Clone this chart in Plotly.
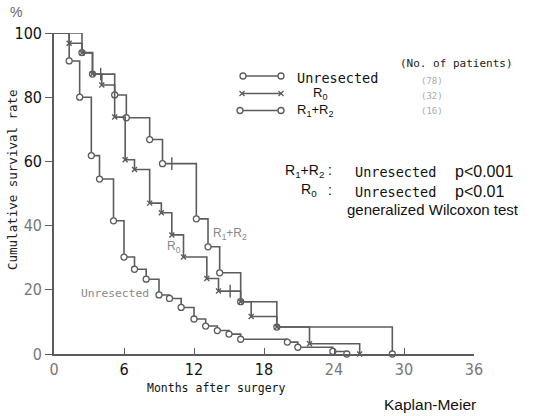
import plotly.graph_objects as go

# ---------------- data (months after surgery, cumulative survival %) ----------------
unres_t = [0, 1.3, 2.2, 3.2, 3.9, 5.1, 6.0, 6.9, 7.9, 9.0, 9.9, 10.9, 12.0, 13.0, 14.0, 15.0, 16.0, 20.0, 20.9, 23.9, 25.1]
unres_s = [100, 91.3, 80.0, 61.8, 54.5, 41.5, 30.2, 26.4, 23.3, 18.4, 17.3, 14.5, 10.9, 8.7, 7.3, 6.2, 4.6, 3.7, 2.1, 0.8, 0]

r0_t = [0, 1.3, 2.4, 3.3, 4.1, 5.2, 6.1, 6.9, 8.2, 9.2, 10.1, 11.1, 13.1, 14.1, 16.0, 16.9, 19.1, 21.9, 26.2]
r0_s = [100, 96.8, 93.8, 87.2, 83.8, 73.8, 60.5, 57.5, 47.0, 44.0, 37.1, 30.2, 23.5, 19.6, 16.3, 11.7, 8.4, 3.2, 0]

r12_t = [0, 2.4, 3.3, 5.2, 6.2, 8.2, 9.3, 12.2, 13.2, 14.2, 16.0, 19.1, 29.0]
r12_s = [100, 93.9, 87.2, 80.7, 73.6, 66.8, 59.3, 42.1, 33.4, 25.3, 16.3, 8.4, 0]

r0_cens_t = [4.0, 15.1]
r0_cens_s = [87.2, 19.6]
r12_cens_t = [10.1]
r12_cens_s = [59.3]

x_ticks = [0, 6, 12, 18, 24, 30, 36]
y_ticks = [0, 20, 40, 60, 80, 100]

# ---------------- layout geometry ----------------
W, H = 535, 416
L, R, T, B = 54, 61, 33, 62
PW, PH = W - L - R, H - T - B


def px(x):
    return (x - L) / PW


def py(y):
    return (H - B - y) / PH


LINE = "#5c5c5c"
MONO = "DejaVu Sans Mono, Liberation Mono, monospace"
SANS = "Liberation Sans, Arial, sans-serif"
NARROW = "DejaVu Sans Condensed, Liberation Sans Narrow, Arial Narrow, sans-serif"

fig = go.Figure()


def km(t, s, symbol, size, lw):
    fig.add_trace(go.Scatter(x=t, y=s, mode="lines", line=dict(shape="hv", color=LINE, width=1.6),
                             cliponaxis=False, hoverinfo="skip"))
    fig.add_trace(go.Scatter(x=t[1:], y=s[1:], mode="markers", cliponaxis=False, hoverinfo="skip",
                             marker=dict(symbol=symbol, size=size, color="white" if "circle" in symbol else LINE,
                                         line=dict(color=LINE, width=lw))))


km(unres_t, unres_s, "circle", 6, 1.3)
km(r12_t, r12_s, "circle", 6, 1.3)
km(r0_t, r0_s, "x-thin", 5, 1.4)

fig.add_trace(go.Scatter(x=r0_cens_t + r12_cens_t, y=r0_cens_s + r12_cens_s, mode="markers", cliponaxis=False,
                         hoverinfo="skip", marker=dict(symbol="line-ns", size=9, line=dict(color=LINE, width=1.4))))

x_col = ["#777", "#111", "#111", "#111", "#777", "#777", "#777"]
y_col = ["#777", "#777", "#777", "#111", "#111", "#111"]

fig.update_xaxes(range=[0, 36], tickvals=x_ticks,
                 ticktext=[f"<span style='color:{c}'>{v}</span>" for v, c in zip(x_ticks, x_col)],
                 ticks="inside", ticklen=6, tickcolor=LINE, tickwidth=1.4,
                 showline=True, linecolor=LINE, linewidth=1.6, showgrid=False, zeroline=False,
                 tickfont=dict(family=NARROW, size=16), ticklabelstandoff=0)
fig.update_yaxes(range=[0, 100], tickvals=y_ticks,
                 ticktext=[f"<span style='color:{c}'>{v}</span>" for v, c in zip(y_ticks, y_col)],
                 ticks="outside", ticklen=7, tickcolor=LINE, tickwidth=1.4,
                 showline=True, linecolor=LINE, linewidth=1.6, showgrid=False, zeroline=False,
                 tickfont=dict(family=NARROW, size=16))

ann = []


def text(x, y, s, size, family=SANS, color="#111", xanchor="left", angle=0):
    ann.append(dict(x=px(x), y=py(y), xref="paper", yref="paper", text=s, showarrow=False,
                    xanchor=xanchor, yanchor="middle", textangle=angle,
                    font=dict(family=family, size=size, color=color)))


text(16, 12, "%", 14, color="#666", xanchor="center")
text(12, 180, "Cumulative survival rate", 12.5, family=MONO, color="#222", xanchor="center", angle=-90)
text(216, 388, "Months after surgery", 11.5, family=MONO, color="#111", xanchor="center")
text(456, 63, "(No. of patients)", 11, family=MONO, color="#222", xanchor="center")
text(432, 81, "(78)", 9, family=MONO, color="#aaa", xanchor="center")
text(432, 96, "(32)", 9, family=MONO, color="#aaa", xanchor="center")
text(432, 111, "(16)", 9, family=MONO, color="#aaa", xanchor="center")
text(295, 78, "Unresected", 13.5, family=MONO)
text(311, 93, "R<sub>0</sub>", 13)
text(295, 110, "R<sub>1</sub>+R<sub>2</sub>", 13)
text(283, 171, "R<sub>1</sub>+R<sub>2</sub>", 14)
text(326, 170, ":", 14)
text(353, 172, "Unresected", 13.5, family=MONO)
text(453, 171, "p<0.001", 16)
text(299, 190, "R<sub>0</sub>", 14)
text(326, 190, ":", 14)
text(353, 192, "Unresected", 13.5, family=MONO)
text(453, 191, "p<0.01", 16)
text(345, 209, "generalized Wilcoxon test", 15)
text(382, 405, "Kaplan-Meier", 15.5)
text(211, 234, "R<sub>1</sub>+R<sub>2</sub>", 12, color="#888")
text(165, 247, "R<sub>0</sub>", 12, color="#888")
text(79, 293, "Unresected", 11.3, family=MONO, color="#888")

shapes = []


def seg(x0, y0, x1, y1):
    shapes.append(dict(type="line", xref="paper", yref="paper", x0=px(x0), y0=py(y0), x1=px(x1), y1=py(y1),
                       line=dict(color=LINE, width=1.6)))


def circ(x, y, r=3):
    shapes.append(dict(type="circle", xref="paper", yref="paper", xsizemode="pixel", ysizemode="pixel",
                       xanchor=px(x), yanchor=py(y), x0=-r, x1=r, y0=-r, y1=r,
                       fillcolor="white", line=dict(color=LINE, width=1.3)))


def cross(x, y, r=2.5):
    for a, b in ((-r, r), (r, -r)):
        shapes.append(dict(type="line", xref="paper", yref="paper", xsizemode="pixel", ysizemode="pixel",
                           xanchor=px(x), yanchor=py(y), x0=-r, x1=r, y0=a, y1=b,
                           line=dict(color=LINE, width=1.3)))


seg(243, 76, 281, 76); circ(243, 76); circ(281, 76)
seg(242, 93.5, 281, 93.5); cross(242, 93.5); cross(281, 93.5)
seg(240, 110.5, 281, 110.5); circ(240, 110.5); circ(281, 110.5)

fig.update_layout(width=W, height=H, margin=dict(l=L, r=R, t=T, b=B),
                  paper_bgcolor="white", plot_bgcolor="white", showlegend=False,
                  annotations=ann, shapes=shapes)

fig.write_html("out.html")
